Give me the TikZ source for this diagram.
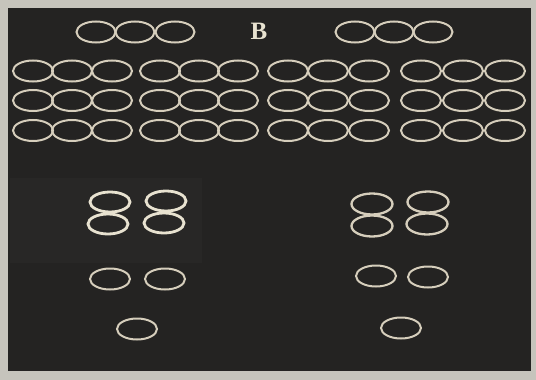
\documentclass[tikz,border=0pt]{standalone}
\usepackage{fontspec}
\newfontfamily\bfont{Liberation Serif}
\usetikzlibrary{shapes.geometric}
\definecolor{bg}{RGB}{36,35,34}
\definecolor{patch}{RGB}{40,39,38}
\definecolor{frame}{RGB}{198,196,188}
\definecolor{ring}{RGB}{214,206,188}
\definecolor{bright}{RGB}{232,226,208}
\begin{document}
\begin{tikzpicture}[x=1pt,y=-1pt,
  ringnode/.style={ellipse, draw=ring, line width=2pt, minimum width=39pt, minimum height=21pt, inner sep=0pt},
  boldring/.style={ringnode, draw=bright, line width=2.8pt, minimum width=40pt, minimum height=20pt}]
\useasboundingbox (0,0) rectangle (536,380);
\fill[frame] (0,0) rectangle (536,380);
\fill[bg] (8,8) rectangle (531,371);
\fill[patch] (10,178) rectangle (202,263);
% top rows of three
\foreach \x [count=\i] in {96,135,175} \node[ringnode] (tl\i) at (\x,32) {};
\foreach \x [count=\i] in {355,394,433} \node[ringnode] (tr\i) at (\x,32) {};
\node[text=bright, inner sep=0pt] (B) at (259,31) {\bfont\bfseries\fontsize{25}{25}\selectfont B};
% block of 3 rows x 12
\foreach \y [count=\r] in {71,100.5,130.5}
  \foreach \x [count=\c] in {33,72,112,160,199,238,288,328,369,421,463,505}
    \node[ringnode, minimum width=40pt] (g\r-\c) at (\x,\y) {};
% left lower
\node[boldring] (ql1) at (110,202) {};
\node[boldring] (ql2) at (166,201) {};
\node[boldring] (ql3) at (108,224) {};
\node[boldring] (ql4) at (164,223) {};
\node[ringnode, minimum width=40pt] (pl1) at (110,279) {};
\node[ringnode, minimum width=40pt] (pl2) at (165,279) {};
\node[ringnode, minimum width=40pt] (sl) at (137,329) {};
% right lower
\node[ringnode, line width=2.3pt, minimum width=41pt] (qr1) at (372,204) {};
\node[ringnode, line width=2.3pt, minimum width=41pt] (qr2) at (428,202) {};
\node[ringnode, line width=2.3pt, minimum width=41pt] (qr3) at (372,226) {};
\node[ringnode, line width=2.3pt, minimum width=41pt] (qr4) at (427,224) {};
\node[ringnode, minimum width=40pt] (pr1) at (376,276) {};
\node[ringnode, minimum width=40pt] (pr2) at (428,277) {};
\node[ringnode, minimum width=40pt] (sr) at (401,328) {};
\end{tikzpicture}
\end{document}
